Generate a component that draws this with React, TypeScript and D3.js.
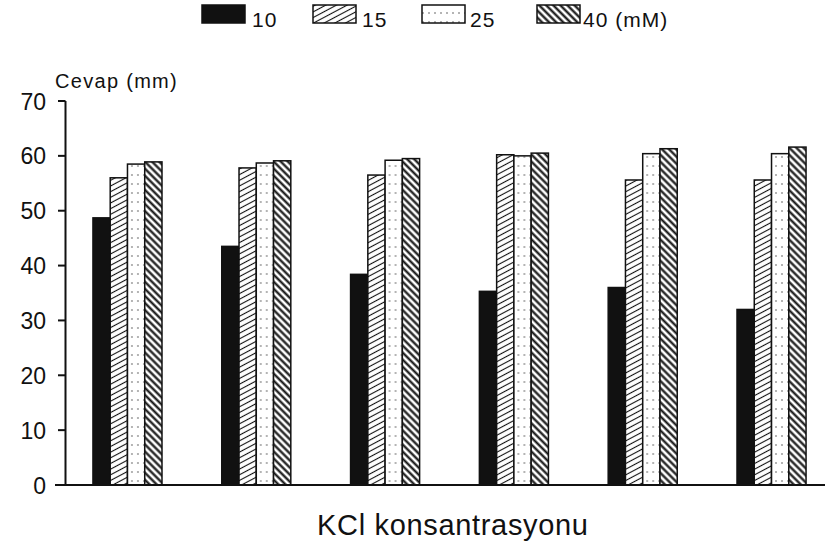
import React from 'react';
import * as d3 from 'd3';

// KCl concentration groups (no tick labels printed on the axis)
const groups = ['g1', 'g2', 'g3', 'g4', 'g5', 'g6'];
const seriesKeys = ['10', '15', '25', '40'];
const legendLabels = ['10', '15', '25', '40 (mM)'];

const values10 = [48.7, 43.5, 38.4, 35.3, 36.0, 32.0];
const values15 = [56.0, 57.8, 56.5, 60.2, 55.6, 55.6];
const values25 = [58.5, 58.7, 59.2, 60.0, 60.4, 60.4];
const values40 = [58.9, 59.1, 59.5, 60.5, 61.3, 61.6];

const yTicks = [0, 10, 20, 30, 40, 50, 60, 70];

const seriesValues = [values10, values15, values25, values40];
const fills = ['#111', 'url(#hatch15)', 'url(#dots25)', 'url(#hatch40)'];

const font = "'Liberation Sans', Arial, sans-serif";

const App = () => {
  const width = 825;
  const height = 555;

  const y = d3.scaleLinear().domain([0, 70]).range([485, 101]);
  const x0 = d3.scaleBand().domain(groups).range([65, 834]).paddingInner(0.464).paddingOuter(0.217);
  const x1 = d3.scaleBand().domain(seriesKeys).range([0, x0.bandwidth()]).padding(0);

  const legendX = [202, 313, 422, 537];
  const legendTextX = [252, 362, 470, 583];

  return (
    <svg width={width} height={height} style={{ display: 'block', position: 'absolute', left: 0, top: 0, background: '#fff' }}>
      <defs>
        <pattern id="hatch15" patternUnits="userSpaceOnUse" width="8" height="5" patternTransform="rotate(-28)">
          <rect width="8" height="5" fill="#fff" />
          <line x1="0" y1="2.5" x2="8" y2="2.5" stroke="#111" strokeWidth="1.1" />
        </pattern>
        <pattern id="hatch40" patternUnits="userSpaceOnUse" width="8" height="5" patternTransform="rotate(45)">
          <rect width="8" height="5" fill="#fff" />
          <line x1="0" y1="2.5" x2="8" y2="2.5" stroke="#111" strokeWidth="2.2" />
        </pattern>
        <pattern id="dots25" patternUnits="userSpaceOnUse" width="6" height="9">
          <rect width="6" height="9" fill="#fff" />
          <circle cx="3" cy="4" r="0.8" fill="#555" />
        </pattern>
      </defs>

      {/* legend */}
      {legendLabels.map((lab, i) => (
        <g key={lab}>
          <rect x={legendX[i]} y={5} width={43} height={18} fill={fills[i]} stroke="#111" strokeWidth={1.5} />
          <text x={legendTextX[i]} y={27} fontFamily={font} fontSize={21} letterSpacing={1} fill="#111">{lab}</text>
        </g>
      ))}

      {/* y axis */}
      <text x={55} y={88} fontFamily={font} fontSize={20} letterSpacing={1.3} fill="#111">Cevap (mm)</text>
      <line x1={65.5} x2={65.5} y1={y(70)} y2={y(0)} stroke="#111" strokeWidth={2} />
      {yTicks.map((t) => (
        <g key={t}>
          <line x1={58} x2={65.5} y1={y(t)} y2={y(t)} stroke="#111" strokeWidth={2} />
          <text x={46} y={y(t) + 8.5} textAnchor="end" fontFamily={font} fontSize={23} fill="#111">{t}</text>
        </g>
      ))}

      {/* bars */}
      {groups.map((g, gi) => (
        <g key={g} transform={`translate(${x0(g)},0)`}>
          {seriesKeys.map((k, si) => {
            const v = seriesValues[si][gi];
            return (
              <rect
                key={k}
                x={x1(k)}
                y={y(v)}
                width={x1.bandwidth()}
                height={y(0) - y(v)}
                fill={fills[si]}
                stroke="#111"
                strokeWidth={1.5}
              />
            );
          })}
        </g>
      ))}

      {/* baseline */}
      <line x1={55} x2={825} y1={y(0)} y2={y(0)} stroke="#111" strokeWidth={2} />

      <text x={317} y={535} textLength={271} lengthAdjust="spacing" fontFamily={font} fontSize={29} fill="#111">KCl konsantrasyonu</text>
    </svg>
  );
};

export default App;
